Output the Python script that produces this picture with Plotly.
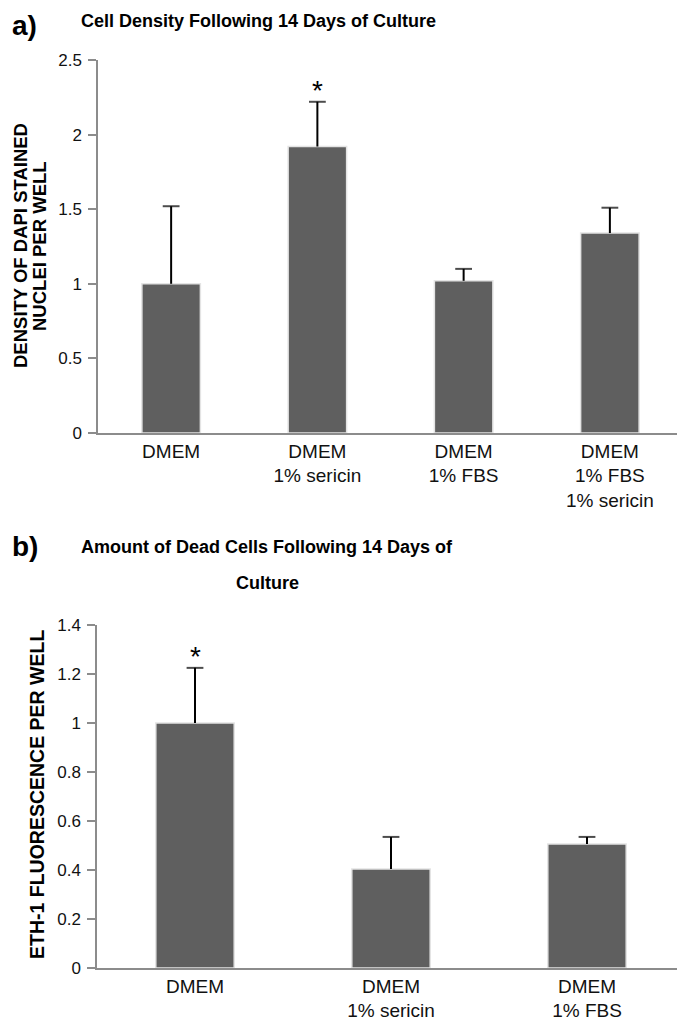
import plotly.graph_objects as go

# Panel a
cats_a = ["DMEM", "DMEM<br>1% sericin", "DMEM<br>1% FBS", "DMEM<br>1% FBS<br>1% sericin"]
vals_a = [1.00, 1.92, 1.02, 1.34]
err_a = [0.52, 0.30, 0.08, 0.17]
sig_a = ["", "*", "", ""]
yticks_a = [0, 0.5, 1, 1.5, 2, 2.5]

# Panel b
cats_b = ["DMEM", "DMEM<br>1% sericin", "DMEM<br>1% FBS"]
vals_b = [1.00, 0.404, 0.506]
err_b = [0.225, 0.131, 0.029]
sig_b = ["*", "", ""]
yticks_b = [0, 0.2, 0.4, 0.6, 0.8, 1, 1.2, 1.4]

# page has an 8px body margin; figure sized to fit the window
OFF = 8
W, H = 685 - OFF, 1024 - OFF
BAR = "#5f5f5f"
AXC = "#8c8c8c"
FONT = "Liberation Sans, Arial, sans-serif"

fig = go.Figure()


def add_panel(cats, vals, errs, xa, ya):
    fig.add_trace(go.Bar(
        x=cats, y=vals, xaxis=xa, yaxis=ya,
        marker=dict(color=BAR, line=dict(color="#e4e4e4", width=1.5)),
        showlegend=False, hoverinfo="skip"))
    ex, ey, es = [], [], []
    for c, v, e in zip(cats, vals, errs):
        ex += [c, c, None]
        ey += [v, v + e, None]
        es += [0, 12, 0]
    fig.add_trace(go.Scatter(
        x=ex, y=ey, xaxis=xa, yaxis=ya, mode="lines+markers",
        line=dict(color="black", width=2),
        marker=dict(symbol="line-ew-open", size=es, color="black", line=dict(color="black", width=2)),
        showlegend=False, hoverinfo="skip"))


add_panel(cats_a, vals_a, err_a, "x", "y")
add_panel(cats_b, vals_b, err_b, "x2", "y2")


def px(x):  # screen x -> paper
    return (x - OFF) / W


def py(y):  # screen y -> paper
    return 1 - (y - OFF) / H


axis_common = dict(showline=True, linecolor=AXC, linewidth=1.5, showgrid=False, zeroline=False)
yfont = dict(family=FONT, size=17, color="#111")
xfont = dict(family=FONT, size=19, color="#111")

fig.update_layout(
    width=W, height=H, margin=dict(l=0, r=0, t=0, b=0, autoexpand=False),
    paper_bgcolor="white", plot_bgcolor="white", bargap=0.6,
    xaxis=dict(domain=[px(98), px(683)], anchor="y", ticks="", tickfont=xfont, **axis_common),
    yaxis=dict(domain=[py(433), py(60)], anchor="x", range=[0, 2.5], tickvals=yticks_a,
               ticktext=[f"{v:g}" for v in yticks_a], ticks="outside", ticklen=8, tickcolor=AXC,
               tickwidth=1.5, ticklabelstandoff=3, tickfont=yfont, **axis_common),
    xaxis2=dict(domain=[px(97), px(685)], anchor="y2", ticks="", tickfont=xfont, **axis_common),
    yaxis2=dict(domain=[py(968), py(625)], anchor="x2", range=[0, 1.4], tickvals=yticks_b,
                ticktext=[f"{v:g}" for v in yticks_b], ticks="outside", ticklen=8, tickcolor=AXC,
                tickwidth=1.5, ticklabelstandoff=3, tickfont=yfont, **axis_common),
)

anns = []
for c, v, e, s in zip(cats_a, vals_a, err_a, sig_a):
    if s:
        anns.append(dict(x=c, y=v + e, xref="x", yref="y", text=s, showarrow=False,
                         yanchor="bottom", yshift=-6, font=dict(family=FONT, size=28, color="black")))
for c, v, e, s in zip(cats_b, vals_b, err_b, sig_b):
    if s:
        anns.append(dict(x=c, y=v + e, xref="x2", yref="y2", text=s, showarrow=False,
                         yanchor="bottom", yshift=-6, font=dict(family=FONT, size=28, color="black")))

anns += [
    dict(x=px(11), y=py(OFF + 1), xref="paper", yref="paper", text="<b>a)</b>", showarrow=False,
         xanchor="left", yanchor="top", borderpad=0, font=dict(family=FONT, size=28, color="black")),
    dict(x=px(258), y=py(21), xref="paper", yref="paper",
         text="<b>Cell Density Following 14 Days of Culture</b>", showarrow=False,
         xanchor="center", yanchor="middle", font=dict(family=FONT, size=18, color="black")),
    dict(x=px(11), y=py(546), xref="paper", yref="paper", text="<b>b)</b>", showarrow=False,
         xanchor="left", yanchor="middle", borderpad=0, font=dict(family=FONT, size=28, color="black")),
    dict(x=px(267), y=py(547), xref="paper", yref="paper",
         text="<b>Amount of Dead Cells Following 14 Days of</b>", showarrow=False,
         xanchor="center", yanchor="middle", font=dict(family=FONT, size=18, color="black")),
    dict(x=px(267), y=py(583), xref="paper", yref="paper",
         text="<b>Culture</b>", showarrow=False,
         xanchor="center", yanchor="middle", font=dict(family=FONT, size=18, color="black")),
    dict(x=px(20), y=py(246), xref="paper", yref="paper",
         text="<b>DENSITY OF DAPI STAINED</b>", showarrow=False, textangle=-90, borderpad=0,
         xanchor="center", yanchor="middle", font=dict(family=FONT, size=18.5, color="black")),
    dict(x=px(39), y=py(246), xref="paper", yref="paper",
         text="<b>NUCLEI PER WELL</b>", showarrow=False, textangle=-90, borderpad=0,
         xanchor="center", yanchor="middle", font=dict(family=FONT, size=18.5, color="black")),
    dict(x=px(37), y=py(795), xref="paper", yref="paper",
         text="<b>ETH-1 FLUORESCENCE PER WELL</b>", showarrow=False, textangle=-90, borderpad=0,
         xanchor="center", yanchor="middle", font=dict(family=FONT, size=19.5, color="black")),
]
fig.update_layout(annotations=anns)

fig.write_html("out.html")
